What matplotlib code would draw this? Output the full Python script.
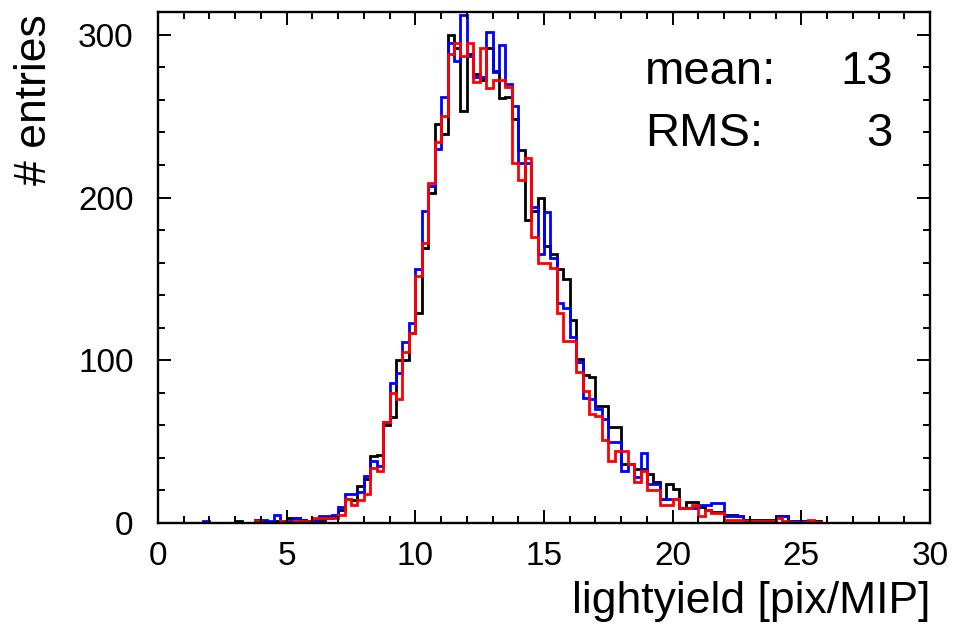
import numpy as np
import matplotlib
matplotlib.use("Agg")
import matplotlib.pyplot as plt
from matplotlib.ticker import MultipleLocator

plt.rcParams['font.family'] = ['Liberation Sans', 'DejaVu Sans']

# 120 bins of 0.25 pix/MIP from 0 to 30
bin_edges = np.linspace(0, 30, 121)

black_counts = [0] * 12 + [
    1, 0, 0, 0, 1, 0, 1, 1, 3, 3, 2, 1, 2, 2, 3, 4, 8, 15, 14, 23,
    27, 41, 42, 60, 65, 100, 100, 117, 129, 169, 203, 245, 239, 300, 292, 253, 288, 276, 272, 292,
    278, 261, 262, 248, 229, 186, 192, 200, 170, 165, 156, 150, 125, 101, 91, 90, 72, 72, 59, 59,
    36, 36, 33, 33, 30, 25, 15, 24, 21, 9, 13, 13, 10, 8, 7, 7, 5, 5, 4, 2,
    2, 2, 2, 2, 4, 4, 1, 1, 1, 0, 1, 0] + [0] * 16

blue_counts = [0] * 7 + [1, 0, 0, 0, 0, 0, 0, 0] + [
    2, 2, 1, 5, 0, 1, 3, 2, 0, 1, 4, 4, 5, 10, 18, 18, 19, 29, 38, 35,
    62, 86, 92, 111, 123, 156, 192, 207, 230, 262, 295, 284, 312, 287, 274, 274, 302, 277, 294, 270,
    256, 221, 221, 194, 165, 191, 163, 135, 132, 114, 99, 77, 76, 70, 64, 50, 50, 32, 36, 28,
    43, 24, 24, 15, 15, 15, 9, 9, 9, 11, 11, 12, 12, 4, 4, 4, 1, 1, 1, 1,
    1, 4, 4, 1, 1, 1, 0, 0] + [0] * 17

red_counts = [0] * 15 + [
    1, 0, 0, 0, 1, 0, 1, 1, 1, 3, 3, 3, 3, 5, 15, 11, 14, 18, 34, 32,
    62, 80, 76, 105, 117, 152, 172, 209, 234, 250, 288, 295, 287, 295, 271, 292, 267, 272, 272, 268,
    221, 211, 224, 176, 160, 160, 157, 129, 112, 112, 93, 81, 67, 66, 51, 38, 44, 44, 36, 25,
    32, 20, 20, 11, 11, 15, 9, 9, 11, 4.5, 8, 6, 6, 2, 2, 2, 1, 1, 1, 1,
    1, 3, 1, 0.5, 0.5, 0.5, 2, 0.5] + [0] * 17

fig = plt.figure(figsize=(9.55, 6.25), dpi=100)
ax = fig.add_axes([158 / 955, 1 - 523 / 625, 772 / 955, 511 / 625])

ax.stairs(black_counts, bin_edges, color='black', lw=2)
ax.stairs(blue_counts, bin_edges, color='blue', lw=2)
ax.stairs(red_counts, bin_edges, color='red', lw=2)

ax.set_xlim(0, 30)
ax.set_ylim(0, 314)
ax.xaxis.set_major_locator(MultipleLocator(5))
ax.xaxis.set_minor_locator(MultipleLocator(1))
ax.yaxis.set_major_locator(MultipleLocator(100))
ax.yaxis.set_minor_locator(MultipleLocator(20))
ax.tick_params(which='both', direction='in', top=True, right=True, width=1.4, labelsize=24)
ax.tick_params(which='major', length=9.5)
ax.tick_params(which='minor', length=5)
ax.tick_params(axis='x', which='major', pad=13)
ax.tick_params(axis='y', which='major', pad=17.5)
for s in ax.spines.values():
    s.set_linewidth(1.7)

fig.text(930 / 955, 1 - 613 / 625, 'lightyield [pix/MIP]', ha='right', va='baseline', fontsize=32)
fig.text(35 / 955, 1 - 14 / 625, '# entries', rotation=90, ha='center', va='top', fontsize=32)

fig.text(645 / 955, 1 - 84 / 625, 'mean:', ha='left', va='baseline', fontsize=34)
fig.text(893 / 955, 1 - 84 / 625, '13', ha='right', va='baseline', fontsize=34)
fig.text(645 / 955, 1 - 146 / 625, 'RMS:', ha='left', va='baseline', fontsize=34)
fig.text(893 / 955, 1 - 146 / 625, '3', ha='right', va='baseline', fontsize=34)

fig.savefig('out.png', dpi=100)
